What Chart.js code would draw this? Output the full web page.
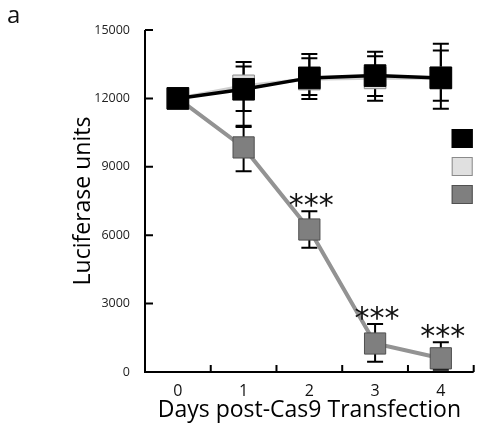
<!DOCTYPE html>
<html>
<head>
<meta charset="utf-8">
<script src="https://cdn.jsdelivr.net/npm/chart.js@4.4.1/dist/chart.umd.min.js"></script>
<style>
  html, body { margin: 0; padding: 0; background: #fff; }
  #wrap { width: 490px; height: 433px; position: relative; }
</style>
</head>
<body>
<div id="wrap"><canvas id="luc"></canvas></div>
<script>
// days after transfection
const days = ["0", "1", "2", "3", "4"];

// black series
const blackVals = [12000, 12400, 12900, 13000, 12900];
const blackHigh = [12000, 13600, 13950, 14050, 14400];
const blackLow  = [12000, 11450, 11970, 11900, 11550];

// light grey series (mostly hidden behind black)
const lightVals = [12000, 12550, 12850, 12900, 12900];
const lightHigh = [12000, 13400, 13760, 13850, 14100];
const lightLow  = [12000, 10750, 12150, 12100, 11900];

// dark grey series
const greyVals = [12000, 9850, 6250, 1250, 600];
const greyHigh = [12000, 10800, 7050, 2100, 1300];
const greyLow  = [12000, 8800, 5450, 450, 100];

// significance marks over the grey series
const stars = ["", "", "***", "***", "***"];

const yTicks = [0, 3000, 6000, 9000, 12000, 15000];

const FONT = "'Open Sans', 'DejaVu Sans', sans-serif";

// error bars, drawn under the lines and markers
const errorBars = {
  id: 'errorBars',
  beforeDatasetsDraw(chart) {
    const {ctx, scales: {x, y}} = chart;
    ctx.save();
    ctx.strokeStyle = '#000';
    ctx.lineWidth = 2;
    chart.data.datasets.forEach(ds => {
      ds.errHigh.forEach((hi, i) => {
        const px = x.getPixelForValue(i);
        const yt = y.getPixelForValue(hi);
        const yb = y.getPixelForValue(ds.errLow[i]);
        if (Math.abs(yb - yt) < 1) return;
        ctx.beginPath();
        ctx.moveTo(px, yt); ctx.lineTo(px, yb);
        ctx.moveTo(px - 8, yt); ctx.lineTo(px + 8, yt);
        ctx.moveTo(px - 8, yb); ctx.lineTo(px + 8, yb);
        ctx.stroke();
      });
    });
    ctx.restore();
  }
};

// axis lines, inward tick marks, asterisks, legend boxes, panel letter
const extras = {
  id: 'extras',
  afterDraw(chart) {
    const {ctx, chartArea, scales: {x, y}} = chart;
    ctx.save();
    ctx.strokeStyle = '#000';
    ctx.lineWidth = 2;
    ctx.beginPath();
    ctx.moveTo(chartArea.left, chartArea.top);
    ctx.lineTo(chartArea.left, chartArea.bottom);
    ctx.lineTo(chartArea.right, chartArea.bottom);
    yTicks.forEach(v => {
      if (v === 0) return;
      const py = y.getPixelForValue(v);
      ctx.moveTo(chartArea.left, py); ctx.lineTo(chartArea.left + 8, py);
    });
    for (let i = 0; i < days.length; i++) {
      const px = x.getPixelForValue(i + 0.5);
      ctx.moveTo(px, chartArea.bottom); ctx.lineTo(px, chartArea.bottom - 7);
    }
    ctx.stroke();

    // asterisks
    const grey = chart.data.datasets[2];
    ctx.fillStyle = '#111';
    ctx.font = "30px 'DejaVu Sans', sans-serif";
    ctx.textAlign = 'center';
    ctx.textBaseline = 'alphabetic';
    stars.forEach((s, i) => {
      if (!s) return;
      const m = ctx.measureText(s);
      const cy = y.getPixelForValue(grey.errHigh[i]) - 11;
      const base = cy + (m.actualBoundingBoxAscent - m.actualBoundingBoxDescent) / 2;
      ctx.fillText(s, x.getPixelForValue(i) + 2, base);
    });

    // legend boxes (labels fall outside the picture)
    chart.data.datasets.forEach((ds, i) => {
      const bx = chartArea.right - 22;
      const by = chartArea.top + 99 + i * 28;
      ctx.fillStyle = ds.pointBackgroundColor;
      ctx.fillRect(bx, by, 21, 19);
      ctx.lineWidth = 1;
      ctx.strokeStyle = ds.pointBorderColor;
      ctx.strokeRect(bx + 0.5, by + 0.5, 20, 18);
    });

    // panel letter
    ctx.fillStyle = '#111';
    ctx.font = "24px " + FONT;
    ctx.textAlign = 'left';
    ctx.fillText('a', 7, 23);
    ctx.restore();
  }
};

new Chart(document.getElementById('luc'), {
  type: 'line',
  data: {
    labels: days,
    datasets: [
      {
        label: 'Black',
        data: blackVals,
        errHigh: blackHigh, errLow: blackLow,
        borderColor: '#000',
        borderWidth: 3.5,
        pointStyle: 'rect',
        pointRadius: 15.3,
        pointBackgroundColor: '#000',
        pointBorderColor: '#000',
        pointBorderWidth: 1
      },
      {
        label: 'Light',
        data: lightVals,
        errHigh: lightHigh, errLow: lightLow,
        borderColor: '#d0d0d0',
        borderWidth: 3.5,
        pointStyle: 'rect',
        pointRadius: 15.3,
        pointBackgroundColor: '#e0e0e0',
        pointBorderColor: '#8a8a8a',
        pointBorderWidth: 1
      },
      {
        label: 'Grey',
        data: greyVals,
        errHigh: greyHigh, errLow: greyLow,
        borderColor: '#939393',
        borderWidth: 4,
        pointStyle: 'rect',
        pointRadius: 15,
        pointBackgroundColor: '#7f7f7f',
        pointBorderColor: '#505050',
        pointBorderWidth: 1
      }
    ]
  },
  options: {
    responsive: true,
    maintainAspectRatio: false,
    animation: false,
    layout: { padding: { top: 30, right: 3, left: 0, bottom: 0 } },
    plugins: {
      legend: { display: false },
      tooltip: { enabled: false }
    },
    scales: {
      x: {
        offset: true,
        grid: { display: false },
        border: { display: false },
        ticks: { color: '#111', font: { family: FONT, size: 16 }, padding: 2 },
        title: {
          display: true,
          text: 'Days post-Cas9 Transfection',
          color: '#000',
          font: { family: FONT, size: 23 },
          padding: { top: 0, bottom: 9 }
        },
        afterFit(scale) { scale.height = 61; }
      },
      y: {
        min: 0,
        max: 15000,
        afterBuildTicks(scale) { scale.ticks = yTicks.map(v => ({ value: v })); },
        grid: { display: false },
        border: { display: false },
        ticks: {
          color: '#222',
          font: { family: FONT, size: 12.5 },
          padding: 7,
          callback: v => String(v)
        },
        title: {
          display: true,
          text: 'Luciferase units',
          color: '#000',
          font: { family: FONT, size: 23 },
          padding: { top: 70, bottom: 0 }
        },
        afterFit(scale) { scale.width = 145; }
      }
    }
  },
  plugins: [errorBars, extras]
});
</script>
</body>
</html>
